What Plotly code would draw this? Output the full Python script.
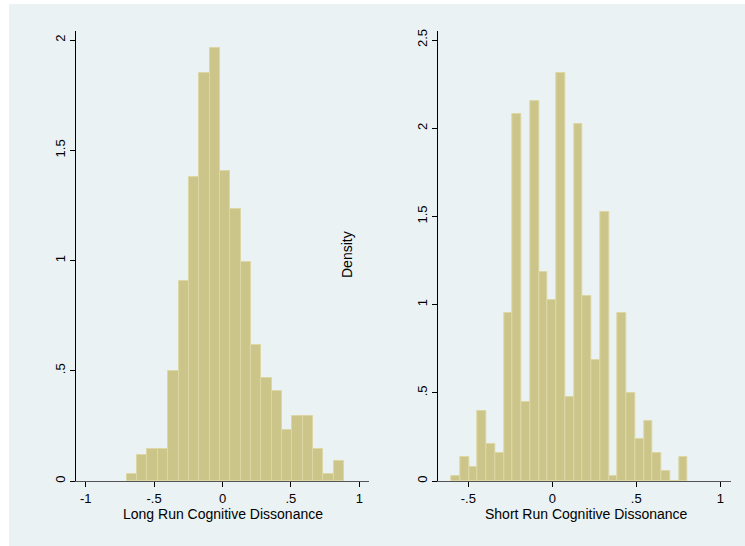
import plotly.graph_objects as go

# ---- data ----
lr_bin_start = -0.700
lr_bin_width = 0.0757
lr_density = [0.030, 0.116, 0.147, 0.147, 0.500, 0.908, 1.380, 1.849, 1.965, 1.408,
              1.233, 0.995, 0.615, 0.468, 0.409, 0.233, 0.293, 0.293, 0.147, 0.030, 0.089]

sr_bin_start = -0.601
sr_bin_width = 0.0521
sr_density = [0.030, 0.134, 0.079, 0.397, 0.212, 0.161, 0.951, 2.078, 0.446, 2.157,
              1.184, 1.026, 2.314, 0.474, 2.025, 1.051, 0.684, 1.525, 0.030, 0.951,
              0.501, 0.236, 0.342, 0.161, 0.055, 0.0, 0.134]

lr_xticks = [-1, -0.5, 0, 0.5, 1]
lr_xtext = ["-1", "-.5", "0", ".5", "1"]
lr_yticks = [0, 0.5, 1, 1.5, 2]
lr_ytext = ["0", ".5", "1", "1.5", "2"]

sr_xticks = [-0.5, 0, 0.5, 1]
sr_xtext = ["-.5", "0", ".5", "1"]
sr_yticks = [0, 0.5, 1, 1.5, 2, 2.5]
sr_ytext = ["0", ".5", "1", "1.5", "2", "2.5"]

lr_title = "Long Run Cognitive Dissonance"
sr_title = "Short Run Cognitive Dissonance"
y_title = "Density"

# ---- styling ----
W, H = 745, 546
BG = "#EAF2F3"
BAR = "#CCC58A"
BAR_LINE = "#DDD7A6"
FONT = "Liberation Sans, Arial, sans-serif"

def px_x(p):
    return p / W

def px_y(p):
    return 1 - p / H

lr_centers = [lr_bin_start + lr_bin_width * (i + 0.5) for i in range(len(lr_density))]
sr_centers = [sr_bin_start + sr_bin_width * (i + 0.5) for i in range(len(sr_density))]

fig = go.Figure()
fig.add_trace(go.Bar(x=lr_centers, y=lr_density, width=lr_bin_width,
                     marker=dict(color=BAR, line=dict(color=BAR_LINE, width=1)),
                     xaxis="x", yaxis="y", showlegend=False, hoverinfo="skip"))
fig.add_trace(go.Bar(x=sr_centers, y=sr_density, width=sr_bin_width,
                     marker=dict(color=BAR, line=dict(color=BAR_LINE, width=1)),
                     xaxis="x2", yaxis="y2", showlegend=False, hoverinfo="skip"))

axis_common = dict(showline=True, linewidth=1, ticks="outside", ticklen=5,
                   tickcolor="#000000", zeroline=False, mirror=False, automargin=False,
                   tickfont=dict(family=FONT, size=13, color="#000000"))

ydom = [px_y(481), px_y(31)]

fig.update_layout(
    width=W, height=H,
    margin=dict(l=0, r=0, t=0, b=0),
    paper_bgcolor="white",
    plot_bgcolor="white",
    bargap=0,
    font=dict(family=FONT, size=13, color="#000000"),
    xaxis=dict(domain=[px_x(76), px_x(369)], range=[-1.071, 1.071],
               tickvals=lr_xticks, ticktext=lr_xtext, showgrid=False,
               linecolor="#555555", anchor="y", **axis_common),
    yaxis=dict(domain=ydom, range=[0, 2.041], tickvals=lr_yticks, ticktext=lr_ytext,
               tickangle=-90, showgrid=True, gridcolor=BG, gridwidth=1,
               linecolor="#000000", anchor="x", **axis_common),
    xaxis2=dict(domain=[px_x(438.3), px_x(731)], range=[-0.679, 1.064],
                tickvals=sr_xticks, ticktext=sr_xtext, showgrid=False,
                linecolor="#555555", anchor="y2", **axis_common),
    yaxis2=dict(domain=ydom, range=[0, 2.551], tickvals=sr_yticks, ticktext=sr_ytext,
                tickangle=-90, showgrid=True, gridcolor=BG, gridwidth=1,
                linecolor="#000000", anchor="x2", **axis_common),
    shapes=[dict(type="rect", xref="paper", yref="paper", layer="below",
                 x0=px_x(9), x1=1, y0=0, y1=px_y(4),
                 fillcolor=BG, line=dict(width=0))],
    annotations=[
        dict(text=lr_title, xref="paper", yref="paper", x=px_x(222.5), y=px_y(513.5),
             showarrow=False, xanchor="center", yanchor="middle",
             font=dict(family=FONT, size=14)),
        dict(text=sr_title, xref="paper", yref="paper", x=px_x(586), y=px_y(513.5),
             showarrow=False, xanchor="center", yanchor="middle",
             font=dict(family=FONT, size=14)),
        dict(text=y_title, xref="paper", yref="paper", x=px_x(347), y=px_y(255),
             showarrow=False, textangle=-90, xanchor="center", yanchor="middle",
             font=dict(family=FONT, size=14)),
    ],
)

fig.write_html("out.html", config={"displayModeBar": False},
               post_script="document.body.style.margin='0';document.body.style.overflow='hidden';")
